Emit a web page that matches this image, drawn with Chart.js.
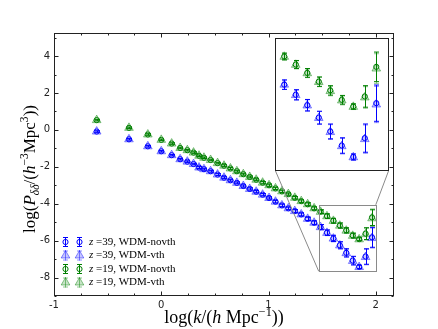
<!DOCTYPE html>
<html>
<head>
<meta charset="utf-8">
<script src="https://cdn.jsdelivr.net/npm/chart.js@4.4.1/dist/chart.umd.min.js"></script>
<style>
  html, body { margin: 0; padding: 0; background: #fff; }
  #wrap { position: relative; width: 438px; height: 329px; }
  #main { position: absolute; left: 0; top: 0; }
  #inset { position: absolute; left: 275px; top: 38px; background: #fff; }
</style>
</head>
<body>
<div id="wrap">
  <canvas id="main" width="438" height="329"></canvas>
  <canvas id="inset" width="114" height="133"></canvas>
</div>
<script>
// log10 k values of the bins
var logk = [-0.602, -0.301, -0.125, 0.0, 0.097, 0.176, 0.243, 0.301, 0.352, 0.398,
  0.46, 0.525, 0.585, 0.645, 0.705, 0.765, 0.825, 0.885, 0.945, 1.005,
  1.065, 1.125, 1.185, 1.245, 1.305, 1.365, 1.425, 1.485, 1.545, 1.605,
  1.665, 1.725, 1.785, 1.845, 1.905, 1.965];

// z=39
var p39novth = [-0.09, -0.51, -0.89, -1.16, -1.37, -1.59, -1.72, -1.85, -2.04, -2.13,
  -2.24, -2.42, -2.59, -2.73, -2.87, -3.04, -3.20, -3.35, -3.51, -3.69,
  -3.89, -4.09, -4.25, -4.40, -4.58, -4.82, -5.03, -5.27, -5.57, -5.88,
  -6.25, -6.66, -7.08, -7.42, -6.86, -5.82];
var p39vth = [-0.09, -0.51, -0.89, -1.16, -1.37, -1.59, -1.72, -1.85, -2.04, -2.13,
  -2.24, -2.42, -2.59, -2.73, -2.87, -3.04, -3.20, -3.35, -3.51, -3.69,
  -3.89, -4.09, -4.25, -4.40, -4.58, -4.82, -5.03, -5.27, -5.58, -5.89,
  -6.26, -6.68, -7.10, -7.43, -6.89, -5.86];
var e39 = [0.04, 0.04, 0.04, 0.04, 0.04, 0.04, 0.04, 0.04, 0.05, 0.05,
  0.05, 0.05, 0.05, 0.05, 0.05, 0.06, 0.06, 0.06, 0.06, 0.06,
  0.07, 0.07, 0.07, 0.08, 0.08, 0.09, 0.10, 0.14, 0.15, 0.17,
  0.19, 0.22, 0.23, 0.09, 0.42, 0.54];

// z=19
var p19novth = [0.53, 0.11, -0.25, -0.54, -0.74, -0.98, -1.10, -1.23, -1.40, -1.51,
  -1.63, -1.80, -1.94, -2.09, -2.24, -2.40, -2.55, -2.70, -2.86, -3.00,
  -3.17, -3.33, -3.48, -3.68, -3.86, -4.03, -4.25, -4.43, -4.67, -4.92,
  -5.18, -5.44, -5.72, -5.92, -5.62, -4.74];
var p19vth = [0.53, 0.11, -0.25, -0.54, -0.74, -0.98, -1.10, -1.23, -1.40, -1.51,
  -1.63, -1.80, -1.94, -2.09, -2.24, -2.40, -2.55, -2.70, -2.86, -3.00,
  -3.17, -3.33, -3.48, -3.68, -3.86, -4.03, -4.25, -4.44, -4.68, -4.93,
  -5.19, -5.46, -5.74, -5.93, -5.65, -4.79];
var e19 = [0.04, 0.04, 0.04, 0.04, 0.04, 0.04, 0.04, 0.04, 0.04, 0.04,
  0.04, 0.04, 0.05, 0.05, 0.05, 0.05, 0.05, 0.05, 0.06, 0.06,
  0.06, 0.06, 0.06, 0.07, 0.07, 0.08, 0.08, 0.10, 0.12, 0.13,
  0.14, 0.14, 0.13, 0.08, 0.32, 0.44];

var xTicks = [-1, 0, 1, 2];
var yTicks = [-8, -6, -4, -2, 0, 2, 4];
var legendLabels = ["=39, WDM-novth", "=39, WDM-vth", "=19, WDM-novth", "=19, WDM-vth"];

var BLUE = "#0000ff", GREEN = "#008000";
var CIRC_R = 2.6, TRI_R = 5;

function pts(arr) {
  return logk.map(function(x, i) { return {x: x, y: arr[i]}; });
}

function makeSets() {
  return [
    {data: pts(p39novth), err: e39, errColor: BLUE, pointStyle: "circle", pointRadius: CIRC_R,
      borderColor: BLUE, backgroundColor: "rgba(0,0,0,0)", borderWidth: 1},
    {data: pts(p39vth), err: e39, errColor: "rgba(0,0,255,0.45)", pointStyle: "triangle", pointRadius: TRI_R,
      borderColor: "rgba(0,0,255,0.45)", backgroundColor: "rgba(0,0,255,0.22)", borderWidth: 1},
    {data: pts(p19novth), err: e19, errColor: GREEN, pointStyle: "circle", pointRadius: CIRC_R,
      borderColor: GREEN, backgroundColor: "rgba(0,0,0,0)", borderWidth: 1},
    {data: pts(p19vth), err: e19, errColor: "rgba(0,128,0,0.45)", pointStyle: "triangle", pointRadius: TRI_R,
      borderColor: "rgba(0,128,0,0.45)", backgroundColor: "rgba(0,128,0,0.22)", borderWidth: 1}
  ].map(function(d) { d.clip = false; d.pointHoverRadius = d.pointRadius; return d; });
}

var errorBars = {
  id: "errorBars",
  beforeDatasetsDraw: function(chart) {
    var ctx = chart.ctx, xs = chart.scales.x, ys = chart.scales.y;
    chart.data.datasets.forEach(function(ds) {
      ctx.save();
      ctx.strokeStyle = ds.errColor;
      ctx.lineWidth = 1;
      ds.data.forEach(function(p, i) {
        var x = Math.round(xs.getPixelForValue(p.x)) + 0.5;
        var y1 = ys.getPixelForValue(p.y - ds.err[i]);
        var y2 = ys.getPixelForValue(p.y + ds.err[i]);
        ctx.beginPath();
        ctx.moveTo(x, y1); ctx.lineTo(x, y2);
        ctx.moveTo(x - 2.5, y1); ctx.lineTo(x + 2.5, y1);
        ctx.moveTo(x - 2.5, y2); ctx.lineTo(x + 2.5, y2);
        ctx.stroke();
      });
      ctx.restore();
    });
  }
};

// rich text with italic / sub / sup parts
function drawRich(ctx, parts, x, y, size) {
  var total = 0;
  parts.forEach(function(p) {
    var s = p.s ? size * 0.68 : size;
    p.font = (p.i ? "italic " : "") + s + "px 'Liberation Serif', serif";
    ctx.font = p.font;
    p.w = ctx.measureText(p.t).width;
    total += p.w;
  });
  var cx = x - total / 2;
  parts.forEach(function(p) {
    ctx.font = p.font;
    var dy = p.s === "sup" ? -size * 0.4 : (p.s === "sub" ? size * 0.25 : 0);
    ctx.fillText(p.t, cx, y + dy);
    cx += p.w;
  });
}

function marker(ctx, style, x, y, color, fill) {
  ctx.save();
  ctx.strokeStyle = color;
  ctx.fillStyle = fill;
  ctx.lineWidth = 1;
  ctx.beginPath();
  if (style === "circle") {
    ctx.arc(x, y, CIRC_R, 0, Math.PI * 2);
  } else {
    var r = TRI_R;
    ctx.moveTo(x, y - r);
    ctx.lineTo(x + r * 0.866, y + r * 0.5);
    ctx.lineTo(x - r * 0.866, y + r * 0.5);
    ctx.closePath();
  }
  ctx.fill();
  ctx.stroke();
  ctx.restore();
}

var decor = {
  id: "decor",
  afterDraw: function(chart) {
    var ctx = chart.ctx, a = chart.chartArea, xs = chart.scales.x, ys = chart.scales.y;
    var L = Math.round(a.left) + 0.5, R = Math.round(a.right) - 0.5;
    var T = Math.round(a.top) + 0.5, B = Math.round(a.bottom) - 0.5;
    ctx.save();
    ctx.strokeStyle = "#222";
    ctx.lineWidth = 1;
    ctx.strokeRect(L, T, R - L, B - T);

    // inward ticks on all sides
    ctx.beginPath();
    for (var v = -1; v <= 2.001; v += 0.25) {
      var px = Math.round(xs.getPixelForValue(v)) + 0.5;
      var len = Math.abs(v - Math.round(v)) < 1e-6 ? 4 : 2;
      ctx.moveTo(px, B); ctx.lineTo(px, B - len);
      ctx.moveTo(px, T); ctx.lineTo(px, T + len);
    }
    for (var w = -9; w <= 5; w += 1) {
      var py = Math.round(ys.getPixelForValue(w)) + 0.5;
      var l2 = (w % 2 === 0) ? 4 : 2;
      ctx.moveTo(L, py); ctx.lineTo(L + l2, py);
      ctx.moveTo(R, py); ctx.lineTo(R - l2, py);
    }
    ctx.stroke();

    // zoom box and connectors to inset
    var bx1 = xs.getPixelForValue(insetX[0]), bx2 = xs.getPixelForValue(insetX[1]);
    var by1 = ys.getPixelForValue(insetY[1]), by2 = ys.getPixelForValue(insetY[0]);
    ctx.strokeStyle = "#8a8a8a";
    ctx.strokeRect(Math.round(bx1) + 0.5, Math.round(by1) + 0.5, Math.round(bx2 - bx1), Math.round(by2 - by1));
    ctx.beginPath();
    ctx.moveTo(275.5, 171); ctx.lineTo(bx1, by2);
    ctx.moveTo(388.5, 171); ctx.lineTo(bx2, by1);
    ctx.stroke();

    // legend
    var rows = [242, 255.5, 269, 282.5];
    var sets = chart.data.datasets;
    rows.forEach(function(ry, i) {
      var ds = sets[i];
      [65, 79].forEach(function(mx) {
        ctx.strokeStyle = ds.errColor;
        ctx.beginPath();
        ctx.moveTo(mx + 0.5, ry - 5); ctx.lineTo(mx + 0.5, ry + 5);
        ctx.moveTo(mx - 2, ry - 5 + 0.5); ctx.lineTo(mx + 3, ry - 5 + 0.5);
        ctx.moveTo(mx - 2, ry + 5 - 0.5); ctx.lineTo(mx + 3, ry + 5 - 0.5);
        ctx.stroke();
        marker(ctx, ds.pointStyle, mx + 0.5, ry, ds.borderColor, ds.backgroundColor);
      });
      ctx.fillStyle = "#000";
      ctx.textBaseline = "middle";
      ctx.textAlign = "left";
      ctx.font = "italic 11px 'Liberation Serif', serif";
      ctx.fillText("z", 89, ry);
      var zw = ctx.measureText("z ").width;
      ctx.font = "11px 'Liberation Serif', serif";
      ctx.fillText(legendLabels[i], 89 + zw, ry);
    });

    // axis titles
    ctx.fillStyle = "#000";
    ctx.textBaseline = "alphabetic";
    ctx.textAlign = "left";
    drawRich(ctx, [{t: "log("}, {t: "k", i: 1}, {t: "/("}, {t: "h", i: 1}, {t: " Mpc"},
      {t: "\u22121", s: "sup"}, {t: "))"}], (a.left + a.right) / 2, 323, 18);
    ctx.translate(35, 169);
    ctx.rotate(-Math.PI / 2);
    drawRich(ctx, [{t: "log("}, {t: "P", i: 1}, {t: "\u03b4\u03b4", i: 1, s: "sub"}, {t: "/("},
      {t: "h", i: 1}, {t: "\u22123", s: "sup"}, {t: "Mpc"}, {t: "3", s: "sup"}, {t: "))"}], 0, 0, 17);
    ctx.restore();
  }
};

var insetX = [1.468, 2.0];
var insetY = [-7.66, -4.06];

var tickFont = {family: "'DejaVu Sans', sans-serif", size: 10};

new Chart(document.getElementById("main"), {
  type: "scatter",
  data: {datasets: makeSets()},
  plugins: [errorBars, decor],
  options: {
    responsive: false,
    animation: false,
    devicePixelRatio: 1,
    layout: {padding: {left: 0, top: 33, right: 44, bottom: 0}},
    plugins: {legend: {display: false}, tooltip: {enabled: false}},
    scales: {
      x: {
        type: "linear", min: -1, max: 2.17,
        grid: {display: false, drawTicks: false}, border: {display: false},
        afterBuildTicks: function(s) { s.ticks = xTicks.map(function(v) { return {value: v}; }); },
        afterFit: function(s) { s.height = 33; },
        ticks: {padding: 3, color: "#222", font: tickFont, maxRotation: 0,
          callback: function(v) { return String(v); }}
      },
      y: {
        type: "linear", min: -9, max: 5.25,
        grid: {display: false, drawTicks: false}, border: {display: false},
        afterBuildTicks: function(s) { s.ticks = yTicks.map(function(v) { return {value: v}; }); },
        afterFit: function(s) { s.width = 54; },
        ticks: {padding: 4, color: "#222", font: tickFont,
          callback: function(v) { return String(v); }}
      }
    }
  }
});

var insetFrame = {
  id: "insetFrame",
  afterDraw: function(chart) {
    var ctx = chart.ctx;
    ctx.save();
    ctx.strokeStyle = "#222";
    ctx.lineWidth = 1;
    ctx.strokeRect(0.5, 0.5, chart.width - 1, chart.height - 1);
    ctx.restore();
  }
};

new Chart(document.getElementById("inset"), {
  type: "scatter",
  data: {datasets: makeSets()},
  plugins: [errorBars, insetFrame],
  options: {
    responsive: false,
    animation: false,
    devicePixelRatio: 1,
    layout: {padding: 0},
    plugins: {legend: {display: false}, tooltip: {enabled: false}},
    scales: {
      x: {type: "linear", min: insetX[0], max: insetX[1], display: false},
      y: {type: "linear", min: insetY[0], max: insetY[1], display: false}
    }
  }
});
</script>
</body>
</html>
